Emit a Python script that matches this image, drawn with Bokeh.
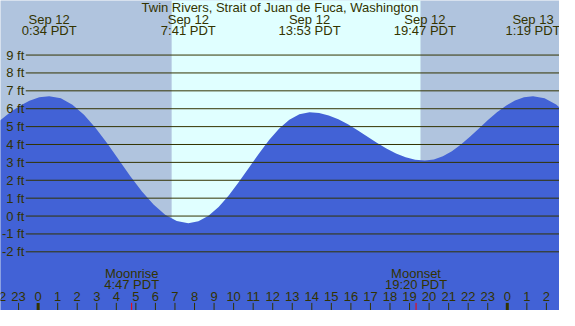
from bokeh.plotting import figure
from bokeh.models import Range1d
from bokeh.core.properties import value
from bokeh.embed import file_html
from bokeh.resources import INLINE

# ---------------- data ----------------
title_text = "Twin Rivers, Strait of Juan de Fuca, Washington"

# hours counted from Sep 12 00:00 PDT, water level in feet
tide_hours = [-2.972, -2.467, -1.961, -1.456, -0.950, -0.445, 0.061, 0.567,
              1.160, 1.753, 2.346, 2.939, 3.532, 4.125, 4.718, 5.311, 5.904, 6.497, 7.090, 7.683,
              8.200, 8.716, 9.233, 9.750, 10.266, 10.783, 11.300, 11.816, 12.333, 12.850, 13.366, 13.883,
              14.375, 14.866, 15.358, 15.850, 16.341, 16.833, 17.325, 17.816, 18.308, 18.800, 19.291, 19.783,
              20.244, 20.705, 21.166, 21.628, 22.089, 22.550, 23.011, 23.472, 23.933, 24.394, 24.855, 25.317,
              25.907, 26.498, 27.088]
tide_feet = [4.371, 4.85, 5.329, 5.775, 6.158, 6.452, 6.637, 6.7,
             6.579, 6.224, 5.660, 4.925, 4.069, 3.15, 2.231, 1.375, 0.640, 0.076, -0.279, -0.4,
             -0.294, 0.015, 0.508, 1.15, 1.898, 2.7, 3.502, 4.25, 4.892, 5.385, 5.694, 5.8,
             5.754, 5.619, 5.405, 5.125, 4.799, 4.45, 4.101, 3.775, 3.495, 3.281, 3.146, 3.1,
             3.161, 3.341, 3.627, 4.0, 4.434, 4.9, 5.366, 5.8, 6.173, 6.459, 6.639, 6.7,
             6.581, 6.231, 5.675]

extreme_hours = [0.567, 7.683, 13.883, 19.783, 25.317]
extreme_dates = ["Sep 12", "Sep 12", "Sep 12", "Sep 12", "Sep 13"]
extreme_times = ["0:34 PDT", "7:41 PDT", "13:53 PDT", "19:47 PDT", "1:19 PDT"]

sunrise_hour = 6.83
sunset_hour = 19.56

moon_hours = [4.783, 19.333]
moon_events = ["Moonrise", "Moonset"]
moon_times = ["4:47 PDT", "19:20 PDT"]

ft_levels = [-2, -1, 0, 1, 2, 3, 4, 5, 6, 7, 8, 9]
ft_labels = ["-2 ft", "-1 ft", "0 ft", "1 ft", "2 ft", "3 ft", "4 ft", "5 ft", "6 ft", "7 ft", "8 ft", "9 ft"]

hour_ticks = list(range(-2, 27))
hour_labels = [str(h % 24) for h in hour_ticks]

# ---------------- layout / style ----------------
NIGHT = "#B0C4DE"
DAY = "#E0FFFF"
WATER = "#4262D6"
INK = "#333300"
FONT = value("Liberation Sans")
FS = value("13px")

REF_W, REF_H = 575, 326
W, H = 559, 310
X0, X1 = -1.925, 26.671
Y0, Y1 = -5.28, 12.05


def xd(px):
    return X0 + px / REF_W * (X1 - X0)


def yd(py):
    return Y1 - py / REF_H * (Y1 - Y0)


p = figure(width=W, height=H, x_range=Range1d(X0, X1), y_range=Range1d(Y0, Y1),
           output_backend="svg", toolbar_location=None, min_border=0,
           x_axis_location=None, y_axis_location=None,
           background_fill_color=NIGHT, border_fill_color="white",
           outline_line_color=None)
p.grid.visible = False

# daylight band
p.quad(left=[sunrise_hour], right=[sunset_hour], bottom=[Y0 - 1], top=[Y1 + 1],
       fill_color=DAY, line_color=None)

# water
p.varea(x=tide_hours, y1=[Y0 - 1] * len(tide_hours), y2=tide_feet, fill_color=WATER)

# level lines and labels
n = len(ft_levels)
p.segment(x0=[xd(26)] * n, y0=ft_levels, x1=[X1 + 1] * n, y1=ft_levels,
          line_color=INK, line_width=1)
p.text(x=[xd(24.5)] * n, y=ft_levels, text=ft_labels, text_align="right",
       text_baseline="middle", text_font=FONT, text_font_size=FS, text_color=INK)

# hour scale
m = len(hour_ticks)
p.text(x=hour_ticks, y=[yd(311)] * m, text=hour_labels, text_align="center",
       text_baseline="middle", text_font=FONT, text_font_size=FS, text_color=INK)
p.segment(x0=hour_ticks, y0=[yd(318)] * m, x1=hour_ticks, y1=[Y0 - 1] * m,
          line_color=INK, line_width=[3 if h % 24 == 0 else 1 for h in hour_ticks])

# moon events
k = len(moon_hours)
p.segment(x0=moon_hours, y0=[yd(318)] * k, x1=moon_hours, y1=[Y0 - 1] * k,
          line_color="red", line_width=1)
p.text(x=moon_hours, y=[yd(287)] * k, text=moon_events, text_align="center",
       text_baseline="middle", text_font=FONT, text_font_size=FS, text_color=INK)
p.text(x=moon_hours, y=[yd(299)] * k, text=moon_times, text_align="center",
       text_baseline="middle", text_font=FONT, text_font_size=FS, text_color=INK)

# high / low tide labels
e = len(extreme_hours)
p.text(x=extreme_hours, y=[yd(20)] * e, text=extreme_dates, text_align="center",
       text_baseline="middle", text_font=FONT, text_font_size=FS, text_color=INK)
p.text(x=extreme_hours, y=[yd(32)] * e, text=extreme_times, text_align="center",
       text_baseline="middle", text_font=FONT, text_font_size=FS, text_color=INK)

# title
p.text(x=[xd(287.5)], y=[yd(7.5)], text=[title_text], text_align="center",
       text_baseline="middle", text_font=FONT, text_font_size=FS, text_color=INK)

open("out.html", "w").write(file_html(p, INLINE))
